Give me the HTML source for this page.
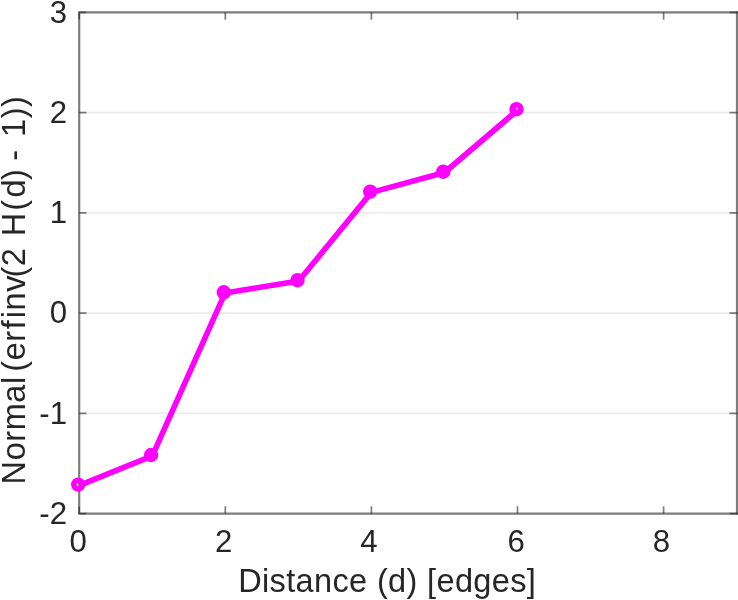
<!DOCTYPE html>
<html lang="en">
<head>
<meta charset="utf-8">
<title>Normal probability plot</title>
<style>
html,body{margin:0;padding:0;background:#fff;overflow:hidden}
svg{display:block}
text{font-family:"Liberation Sans",Arial,Helvetica,sans-serif;fill:#262626}
</style>
</head>
<body>
<svg width="738" height="600" viewBox="0 0 738 600">
<defs><filter id="soft" x="-2%" y="-2%" width="104%" height="104%"><feGaussianBlur stdDeviation="0.75"/></filter></defs>
<rect x="0" y="0" width="738" height="600" fill="#ffffff"/>
<g filter="url(#soft)">
<g stroke="#ebebeb" stroke-width="1.6" fill="none">
<line x1="79.2" y1="413.4" x2="736.7" y2="413.4"/>
<line x1="79.2" y1="313.1" x2="736.7" y2="313.1"/>
<line x1="79.2" y1="212.9" x2="736.7" y2="212.9"/>
<line x1="79.2" y1="112.6" x2="736.7" y2="112.6"/>
</g>
<g stroke="#262626" stroke-opacity="0.6" stroke-width="2.2" fill="none" stroke-linecap="butt">
<path d="M737.4 12.4H79.2V513.6H737.4"/>
<line x1="737.4" y1="11.3" x2="737.4" y2="514.7" stroke-width="3"/>
<g stroke-width="1.7">
<line x1="79.2" y1="513.6" x2="79.2" y2="506.6"/>
<line x1="79.2" y1="12.4" x2="79.2" y2="19.4"/>
<line x1="79.2" y1="12.4" x2="86.2" y2="12.4"/>
<line x1="737.4" y1="12.4" x2="729.7" y2="12.4"/>
<line x1="79.2" y1="513.6" x2="86.2" y2="513.6"/>
<line x1="737.4" y1="513.6" x2="729.7" y2="513.6"/>
<line x1="225.3" y1="513.6" x2="225.3" y2="506.3"/>
<line x1="225.3" y1="12.4" x2="225.3" y2="19.7"/>
<line x1="371.4" y1="513.6" x2="371.4" y2="506.3"/>
<line x1="371.4" y1="12.4" x2="371.4" y2="19.7"/>
<line x1="517.5" y1="513.6" x2="517.5" y2="506.3"/>
<line x1="517.5" y1="12.4" x2="517.5" y2="19.7"/>
<line x1="663.6" y1="513.6" x2="663.6" y2="506.3"/>
<line x1="663.6" y1="12.4" x2="663.6" y2="19.7"/>
<line x1="79.2" y1="413.4" x2="86.5" y2="413.4"/>
<line x1="737.4" y1="413.4" x2="729.4" y2="413.4"/>
<line x1="79.2" y1="313.1" x2="86.5" y2="313.1"/>
<line x1="737.4" y1="313.1" x2="729.4" y2="313.1"/>
<line x1="79.2" y1="212.9" x2="86.5" y2="212.9"/>
<line x1="737.4" y1="212.9" x2="729.4" y2="212.9"/>
<line x1="79.2" y1="112.6" x2="86.5" y2="112.6"/>
<line x1="737.4" y1="112.6" x2="729.4" y2="112.6"/>
</g>
</g>
<polyline points="79.4,485.4 152.3,455.8 225.0,293.1 298.7,281.0 371.4,192.4 444.5,172.5 517.8,110.0" fill="none" stroke="#ff00ff" stroke-width="5.6" stroke-linejoin="round" stroke-linecap="butt"/>
<g fill="none" stroke="#ff00ff" stroke-width="5.6">
<circle cx="78.2" cy="484.6" r="4.4"/>
<circle cx="151.1" cy="455.0" r="4.4"/>
<circle cx="223.8" cy="292.3" r="4.4"/>
<circle cx="297.5" cy="280.2" r="4.4"/>
<circle cx="370.2" cy="191.6" r="4.4"/>
<circle cx="443.3" cy="171.7" r="4.4"/>
<circle cx="516.5" cy="109.2" r="4.4"/>
</g>
<g font-size="31.2" text-anchor="end">
<text transform="translate(67.1,12.2) scale(1,1.027)" x="0" y="10.2">3</text>
<text transform="translate(67.1,112.4) scale(1,1.027)" x="0" y="10.2">2</text>
<text transform="translate(67.1,212.7) scale(1,1.027)" x="0" y="10.2">1</text>
<text transform="translate(67.1,312.9) scale(1,1.027)" x="0" y="10.2">0</text>
<text transform="translate(67.1,413.2) scale(1,1.027)" x="0" y="10.2">-1</text>
<text transform="translate(67.1,513.4) scale(1,1.027)" x="0" y="10.2">-2</text>
</g>
<g font-size="31.2" text-anchor="middle">
<text transform="translate(78.3,552.0) scale(1,1.027)" x="0" y="0">0</text>
<text transform="translate(223.8,552.0) scale(1,1.027)" x="0" y="0">2</text>
<text transform="translate(369.0,552.0) scale(1,1.027)" x="0" y="0">4</text>
<text transform="translate(516.1,552.0) scale(1,1.027)" x="0" y="0">6</text>
<text transform="translate(661.4,552.0) scale(1,1.027)" x="0" y="0">8</text>
</g>
<text x="387.2" y="592" font-size="32.5" text-anchor="middle" letter-spacing="0.36">Distance (d) [edges]</text>
<text transform="translate(25,290) rotate(-90)" font-size="32.5" text-anchor="middle" letter-spacing="0.55" dx="0 0 0 0 0 0 0 -5 0 0 1 1.5 0 0 -2.5 0 0 1.7 1.6 1.7 -1 0 -1.7 0 2.7 0 0">Normal (erfinv(2 H(d) - 1))</text>
</g>
</svg>
</body>
</html>
